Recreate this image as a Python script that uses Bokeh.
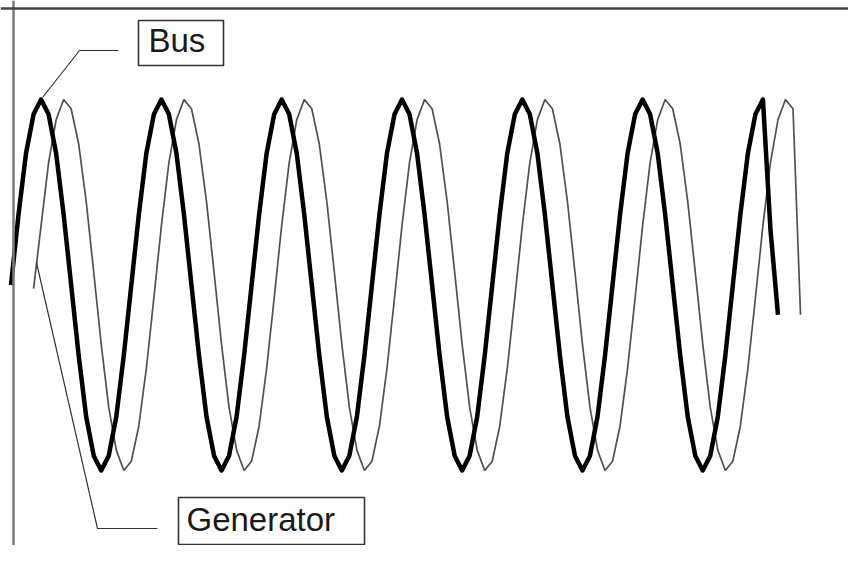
from bokeh.plotting import figure
from bokeh.models import Range1d, Span, Label, BoxAnnotation
from bokeh.embed import file_html
from bokeh.resources import INLINE

# Bus voltage (per unit), 16 samples per cycle, starting at sample 0
bus_v = [
    0.0, 0.38, 0.71, 0.92, 1.0, 0.92, 0.71, 0.38, 0.0, -0.38, -0.71, -0.92, -1.0, -0.92, -0.71, -0.38,
    0.0, 0.38, 0.71, 0.92, 1.0, 0.92, 0.71, 0.38, 0.0, -0.38, -0.71, -0.92, -1.0, -0.92, -0.71, -0.38,
    0.0, 0.38, 0.71, 0.92, 1.0, 0.92, 0.71, 0.38, 0.0, -0.38, -0.71, -0.92, -1.0, -0.92, -0.71, -0.38,
    0.0, 0.38, 0.71, 0.92, 1.0, 0.92, 0.71, 0.38, 0.0, -0.38, -0.71, -0.92, -1.0, -0.92, -0.71, -0.38,
    0.0, 0.38, 0.71, 0.92, 1.0, 0.92, 0.71, 0.38, 0.0, -0.38, -0.71, -0.92, -1.0, -0.92, -0.71, -0.38,
    0.0, 0.38, 0.71, 0.92, 1.0, 0.92, 0.71, 0.38, 0.0, -0.38, -0.71, -0.92, -1.0, -0.92, -0.71, -0.38,
    0.0, 0.38, 0.71, 0.92, 1.0, 0.30, -0.16,
]

# Generator voltage (per unit), same sampling, starting at sample 3
gen_first_sample = 3
gen_v = [
    -0.02,
    0.32, 0.66, 0.89, 1.0, 0.95, 0.76, 0.45, 0.07, -0.32, -0.66, -0.89, -1.0, -0.95, -0.76, -0.45, -0.07,
    0.32, 0.66, 0.89, 1.0, 0.95, 0.76, 0.45, 0.07, -0.32, -0.66, -0.89, -1.0, -0.95, -0.76, -0.45, -0.07,
    0.32, 0.66, 0.89, 1.0, 0.95, 0.76, 0.45, 0.07, -0.32, -0.66, -0.89, -1.0, -0.95, -0.76, -0.45, -0.07,
    0.32, 0.66, 0.89, 1.0, 0.95, 0.76, 0.45, 0.07, -0.32, -0.66, -0.89, -1.0, -0.95, -0.76, -0.45, -0.07,
    0.32, 0.66, 0.89, 1.0, 0.95, 0.76, 0.45, 0.07, -0.32, -0.66, -0.89, -1.0, -0.95, -0.76, -0.45, -0.07,
    0.32, 0.66, 0.89, 1.0, 0.95, 0.76, 0.45, 0.07, -0.32, -0.66, -0.89, -1.0, -0.95, -0.76, -0.45, -0.07,
    0.32, 0.66, 0.89, 1.0, 0.95, -0.16,
]

series_labels = ["Bus", "Generator"]

bus_x = list(range(len(bus_v)))
gen_x = list(range(gen_first_sample, gen_first_sample + len(gen_v)))

# ---- layout ----
W, H = 848, 545
X_START, X_END = -1.3965, 111.38
Y_BOT, Y_TOP = -1.4043, 1.5337


def px_x(px):
    return X_START + px / W * (X_END - X_START)


def px_y(py):
    return Y_TOP - py / H * (Y_TOP - Y_BOT)


p = figure(width=W, height=H, x_range=Range1d(X_START, X_END), y_range=Range1d(Y_BOT, Y_TOP),
           output_backend="svg", toolbar_location=None, min_border=0,
           x_axis_location=None, y_axis_location=None, outline_line_color=None,
           background_fill_color="white", border_fill_color="white")
p.grid.grid_line_color = None

# frame lines (left and top)
p.add_layout(Span(location=px_x(13), dimension="height", line_color="#7a7a7a", line_width=2.5))
p.add_layout(Span(location=px_y(8), dimension="width", line_color="#444444", line_width=2.5))

# waveforms
p.line(gen_x, gen_v, line_color="#505050", line_width=1.7)
p.line(bus_x, bus_v, line_color="black", line_width=4.5, line_join="round")

# leader lines
p.line([px_x(118), px_x(79), px_x(42)], [px_y(50), px_y(50), px_y(97)], line_color="#333333", line_width=1.2)
p.line([px_x(157), px_x(97), px_x(36)], [px_y(528), px_y(528), px_y(262)], line_color="#333333", line_width=1.2)

# label boxes
p.add_layout(BoxAnnotation(left=px_x(138), right=px_x(223), top=px_y(20), bottom=px_y(65),
                           fill_color="white", fill_alpha=1.0, line_color="#333333", line_width=1.6,
                           line_alpha=1.0))
p.add_layout(BoxAnnotation(left=px_x(178), right=px_x(364), top=px_y(497), bottom=px_y(544),
                           fill_color="white", fill_alpha=1.0, line_color="#333333", line_width=1.6,
                           line_alpha=1.0))

p.add_layout(Label(x=px_x(148), y=px_y(40), text=series_labels[0], text_font="Liberation Sans",
                   text_font_size="33px", text_baseline="alphabetic", text_color="#1a1a1a"))
p.add_layout(Label(x=px_x(186), y=px_y(519), text=series_labels[1], text_font="Liberation Sans",
                   text_font_size="33px", text_baseline="alphabetic", text_color="#1a1a1a"))

open("out.html", "w").write(file_html(p, INLINE))
